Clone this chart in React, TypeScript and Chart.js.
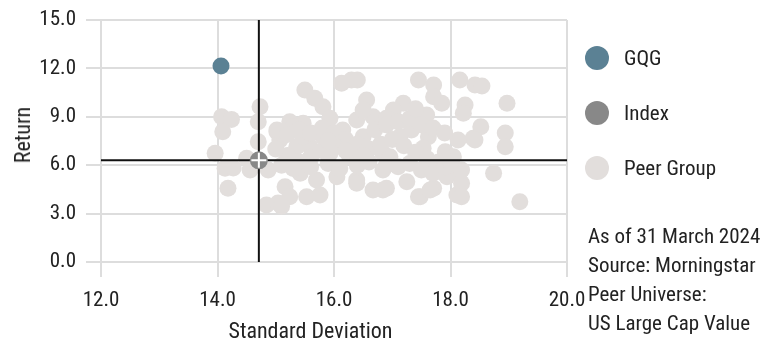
import React, { useEffect, useRef } from 'react';
import { Chart, registerables } from 'chart.js';

Chart.register(...registerables);

const FONT = '"Roboto Condensed", "Liberation Sans Narrow", Roboto, sans-serif';
const FONT_SIZE = 21;
const TITLE_SIZE = 22;
const TEXT_COLOR = '#222222';

const xAxisTitle = 'Standard Deviation';
const yAxisTitle = 'Return';
const xMin = 12;
const xMax = 20;
const xStep = 2;
const yMin = 0;
const yMax = 15;
const yStep = 3;

const seriesNames = ['GQG', 'Index', 'Peer Group'];
const seriesColors = ['#5b8194', '#888888', '#e2dedc'];

const gqgStdDev = [14.06];
const gqgReturn = [12.15];
const indexStdDev = [14.71];
const indexReturn = [6.3];

const peerStdDev = [
  14.07, 14.24, 14.09, 13.96, 14.13, 14.27, 14.18, 14.73, 14.7, 14.7, 14.5, 14.56, 14.87, 15.02, 15.16, 14.84, 15.04, 15.24, 15.1,
  15.24, 15.07, 15.02,
  15.5, 15.67, 15.81, 16.3, 16.13, 16.56, 15.93, 15.47, 15.3, 16.15, 16.5, 16.84, 15.42, 15.7, 16.05, 16.39, 16.67, 15.53, 15.76,
  16.84, 15.59, 15.93, 16.27, 15.36, 15.81, 15.47, 16.39, 16.67, 16.5, 16.4,
  17.45, 17.71, 18.16, 18.42, 17.71, 17.85, 17.19, 17.02, 16.9, 17.59, 18.25, 18.22, 17.33, 17.13, 17.62, 18.13, 18.39, 17.53,
  17.91, 18.05, 16.96, 18.16, 17.25, 16.9, 17.71, 17.48, 18.11, 17.94, 18.54, 18.97, 18.52, 18.42, 18.94, 18.94, 18.74, 18.19,
  18.19, 19.19, 18.19, 17.45, 17.65, 16.84, 16.39,
  15.2, 15.4, 15.6, 15.8, 16.0, 16.2, 16.4, 16.6, 16.8, 17.0, 17.2, 17.4, 17.6, 17.8, 16.0, 15.8, 15.6, 15.4, 15.2, 15.0, 15.1,
  15.3, 15.6, 15.9, 16.1, 16.4, 16.6, 16.9, 17.1, 17.3, 17.5, 17.7, 17.9, 18.0, 16.2, 16.5, 15.9, 16.7, 16.9, 17.1, 17.3, 17.5,
  17.7, 17.9, 17.4,
];
const peerReturn = [
  9.0, 8.84, 8.07, 6.74, 5.81, 5.82, 4.57, 9.62, 8.7, 7.46, 6.43, 5.7, 5.7, 8.07, 4.67, 3.53, 3.65, 4.05, 3.45,
  8.7, 7.56, 8.18,
  10.66, 10.15, 9.62, 11.28, 11.08, 10.04, 8.91, 8.6, 8.39, 8.18, 7.77, 6.74, 5.5, 5.08, 5.29, 5.08, 4.46, 4.05, 4.15,
  5.7, 7.15, 6.74, 6.53, 7.15, 7.77, 7.77, 8.8, 9.0, 9.42, 11.28,
  11.28, 10.97, 11.28, 10.97, 10.24, 9.84, 9.84, 9.42, 8.91, 9.11, 9.73, 9.22, 8.18, 7.77, 7.77, 7.56, 7.67, 7.05,
  6.84, 6.53, 6.53, 5.6, 4.97, 4.57, 4.57, 4.05, 4.15, 5.29, 10.91, 9.84, 8.39, 7.56, 8.0, 7.15, 5.5, 4.88,
  4.05, 3.74, 5.7, 4.05, 4.46, 4.46, 4.88,
  7.9, 8.2, 8.0, 8.3, 8.0, 7.6, 7.3, 7.0, 7.3, 7.6, 7.2, 6.8, 6.4, 6.2, 7.2, 6.9, 6.5, 6.2, 6.6, 7.0, 6.0,
  5.8, 5.9, 6.1, 5.8, 6.0, 6.2, 6.0, 5.9, 6.1, 5.7, 5.5, 5.9, 6.2, 6.9, 6.6, 7.5, 8.2, 8.5, 8.7, 8.9, 8.5,
  8.3, 8.0, 9.5,
];

const notes = ['As of 31 March 2024', 'Source: Morningstar', 'Peer Universe:', 'US Large Cap Value'];

const toPoints = (xs: number[], ys: number[]) => xs.map((x, i) => ({ x, y: ys[i] }));

function App() {
  const canvasRef = useRef<HTMLCanvasElement | null>(null);

  useEffect(() => {
    if (!canvasRef.current) return;
    const ix = indexStdDev[0];
    const iy = indexReturn[0];
    const chart = new Chart(canvasRef.current, {
      type: 'scatter',
      data: {
        datasets: [
          {
            label: 'Index cross',
            data: toPoints(indexStdDev, indexReturn),
            pointStyle: 'cross',
            pointRadius: 7.5,
            borderColor: '#ffffff',
            borderWidth: 2,
            backgroundColor: '#ffffff',
            order: 0,
          },
          {
            label: seriesNames[1],
            data: toPoints(indexStdDev, indexReturn),
            pointRadius: 9,
            backgroundColor: seriesColors[1],
            borderWidth: 0,
            order: 1,
          },
          {
            label: seriesNames[0],
            data: toPoints(gqgStdDev, gqgReturn),
            pointRadius: 8.5,
            backgroundColor: seriesColors[0],
            borderWidth: 0,
            order: 2,
          },
          {
            label: 'h-line',
            data: [{ x: xMin, y: iy }, { x: xMax, y: iy }],
            showLine: true,
            pointRadius: 0,
            borderColor: '#111111',
            borderWidth: 2,
            order: 3,
          },
          {
            label: 'v-line',
            data: [{ x: ix, y: yMin }, { x: ix, y: yMax }],
            showLine: true,
            pointRadius: 0,
            borderColor: '#111111',
            borderWidth: 2,
            order: 3,
          },
          {
            label: seriesNames[2],
            data: toPoints(peerStdDev, peerReturn),
            pointRadius: 8.5,
            backgroundColor: seriesColors[2],
            borderWidth: 0,
            order: 4,
          },
        ],
      },
      options: {
        responsive: false,
        animation: false,
        devicePixelRatio: 1,
        events: [],
        layout: { padding: { top: 12, right: 30, left: 0, bottom: 0 } },
        plugins: { legend: { display: false }, tooltip: { enabled: false } },
        scales: {
          x: {
            type: 'linear',
            min: xMin,
            max: xMax,
            afterFit: (s: any) => { s.height = 77; s.paddingLeft = 0; s.paddingRight = 0; },
            ticks: {
              stepSize: xStep,
              padding: 11,
              color: TEXT_COLOR,
              font: { family: FONT, size: FONT_SIZE },
              callback: (v: any) => Number(v).toFixed(1),
            },
            grid: { color: '#dddddd', lineWidth: 2, tickLength: 15, tickColor: '#dddddd', tickWidth: 2 },
            border: { display: false },
            title: { display: false },
          },
          y: {
            type: 'linear',
            min: yMin,
            max: yMax,
            afterFit: (s: any) => { s.width = 93; s.paddingTop = 0; s.paddingBottom = 0; },
            ticks: {
              stepSize: yStep,
              padding: 10,
              color: TEXT_COLOR,
              font: { family: FONT, size: FONT_SIZE },
              callback: (v: any) => Number(v).toFixed(1),
            },
            grid: { color: '#dddddd', lineWidth: 2, tickLength: 15, tickColor: '#dddddd', tickWidth: 2 },
            border: { display: false },
            title: { display: false },
          },
        },
      },
    });
    return () => chart.destroy();
  }, []);

  const legendCenters = [50, 105, 160];

  return (
    <div style={{ position: 'relative', width: 767, height: 331, fontFamily: FONT, color: TEXT_COLOR }}>
      <canvas ref={canvasRef} width={589} height={331} style={{ position: 'absolute', left: 0, top: 0 }} />
      <div
        style={{
          position: 'absolute',
          left: 15,
          top: 127,
          fontSize: TITLE_SIZE,
          lineHeight: '26px',
          whiteSpace: 'nowrap',
          transform: 'translate(-50%, -50%) rotate(-90deg)',
        }}
      >
        {yAxisTitle}
      </div>
      <div
        style={{
          position: 'absolute',
          left: 302.5,
          top: 323,
          fontSize: TITLE_SIZE,
          lineHeight: '26px',
          whiteSpace: 'nowrap',
          transform: 'translate(-50%, -50%)',
        }}
      >
        {xAxisTitle}
      </div>
      {seriesNames.map((name, i) => (
        <div key={name}>
          <div
            style={{
              position: 'absolute',
              left: 577,
              top: legendCenters[i] - 12,
              width: 24,
              height: 24,
              borderRadius: '50%',
              background: seriesColors[i],
            }}
          />
          <div
            style={{
              position: 'absolute',
              left: 616,
              top: legendCenters[i] - 14,
              height: 28,
              lineHeight: '28px',
              fontSize: FONT_SIZE,
              whiteSpace: 'nowrap',
            }}
          >
            {name}
          </div>
        </div>
      ))}
      <div style={{ position: 'absolute', left: 580, top: 214, fontSize: FONT_SIZE, lineHeight: '29px', whiteSpace: 'nowrap' }}>
        {notes.map((n) => (
          <div key={n}>{n}</div>
        ))}
      </div>
    </div>
  );
}

export default App;
